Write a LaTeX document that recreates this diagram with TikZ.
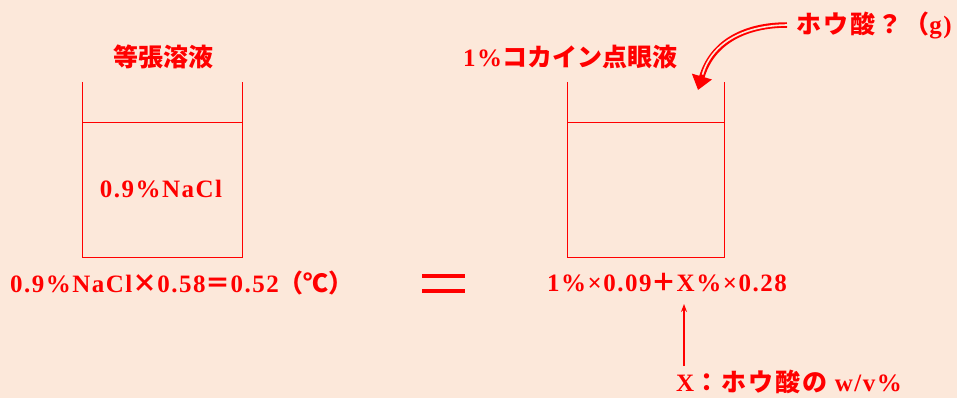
\documentclass[tikz,border=0pt]{standalone}
\usepackage{fontspec}
\setmainfont{Liberation Serif}[LetterSpace=6]
\newfontfamily\jp{Noto Sans CJK JP}
\newfontfamily\jpw{Noto Sans CJK JP}[LetterSpace=8]
\newcommand{\J}[1]{{\jp #1}}
\newcommand{\JW}[1]{{\jpw #1}}
\usetikzlibrary{arrows.meta}
\definecolor{bg}{HTML}{FCE8DA}
\definecolor{rd}{HTML}{FF0000}
\begin{document}
\begin{tikzpicture}[x=1pt,y=-1pt,
  txt/.style={text=rd,font=\bfseries\fontsize{25}{29}\selectfont,inner sep=0pt},
  beaker/.style={draw=rd,line width=0.9pt}]
\fill[bg] (0,0) rectangle (957,398);
\useasboundingbox (0,0) rectangle (957,398);
% left beaker
\draw[beaker] (82,82) -- (82,257) -- (242,257) -- (242,82);
\draw[beaker] (82,122) -- (242,122);
% right beaker
\draw[beaker] (567,82) -- (567,257) -- (724,257) -- (724,82);
\draw[beaker] (567,122) -- (724,122);
% texts
\node[txt] (t1) at (163,57) {\J{等張溶液}};
\node[txt] (t2) at (570,57) {1\%\J{コカイン点眼液}};
\node[txt] (t3) at (161,189) {0.9\%NaCl};
\node[txt] (eqL) at (182,283) {0.9\%NaCl\J{×}0.58\J{＝}0.52\J{（℃）}};
\node[txt] (eqR) at (667,283) {1\%×0.09\J{＋}X\%×0.28};
\node[txt] (hq) at (874,25) {\JW{ホウ酸？（}g)};
\node[txt] (xl) at (789,382) {X\JW{：ホウ酸の} w/v\%};
% equals
\draw[rd,line width=4pt] (422,276) -- (465,276) (422,291) -- (465,291);
% up arrow
\coordinate (xa) at (684,304);
\coordinate (xb) at (684,366);
\draw[rd,line width=1.2pt,-{Stealth[length=8pt,width=6pt]}] (xb) -- (xa);
% curved double arrow
\coordinate (ca) at (787,25);
\coordinate (cb) at (698,90);
\draw[rd,line width=5.5pt,-{Triangle[length=14pt,width=20pt]}] (ca) .. controls (745,25) and (712,42) .. (cb);
\draw[bg,line width=1.6pt,shorten >=16pt] (789,25) .. controls (745,25) and (712,42) .. (cb);
\end{tikzpicture}
\end{document}
